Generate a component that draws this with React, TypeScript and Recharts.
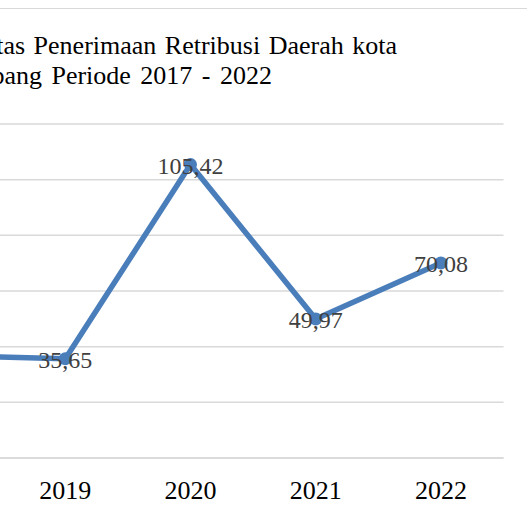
import React from "react";
import { LineChart, Line, XAxis, YAxis, CartesianGrid, LabelList } from "recharts";

const years = ["2017", "2018", "2019", "2020", "2021", "2022"];
const effectiveness = [38.4, 36.8, 35.65, 105.42, 49.97, 70.08];
const yTicks = [0, 20, 40, 60, 80, 100, 120];
const titleLine1 = "Efektivitas Penerimaan Retribusi Daerah kota";
const titleLine2 = "Palembang Periode 2017 - 2022";

const data = years.map((y, i) => ({ year: y, value: effectiveness[i] }));

const FONT = "'Liberation Serif', 'Times New Roman', serif";

const fmt = (v: number) => v.toFixed(2).replace(".", ",");

const renderLabel = (props: any) => {
  const { x, y, value } = props;
  return (
    <text
      x={x}
      y={y + 9}
      textAnchor="middle"
      fontFamily={FONT}
      fontSize={24}
      fill="#404040"
    >
      {fmt(value)}
    </text>
  );
};

const titleStyle: React.CSSProperties = {
  position: "absolute",
  fontFamily: FONT,
  fontSize: 26,
  lineHeight: "26px",
  whiteSpace: "nowrap",
  color: "#000",
};

export default function App() {
  return (
    <div
      style={{
        position: "absolute",
        left: 0,
        top: 0,
        width: 527,
        height: 514,
        overflow: "hidden",
        background: "#fff",
      }}
    >
      <div
        style={{
          position: "absolute",
          left: 0,
          top: 8,
          width: 527,
          height: 0,
          borderTop: "1.5px solid #d9d9d9",
        }}
      />
      <div style={{ ...titleStyle, right: 527 - 397, top: 33, wordSpacing: "2px" }}>
        {titleLine1}
      </div>
      <div style={{ ...titleStyle, right: 527 - 272, top: 63, wordSpacing: "3px" }}>
        {titleLine2}
      </div>
      <div style={{ position: "absolute", left: -300, top: 0 }}>
        <LineChart
          width={830}
          height={514}
          data={data}
          margin={{ top: 124, right: 26.5, bottom: 0, left: 52.3 }}
        >
          <CartesianGrid vertical={false} stroke="#d9d9d9" strokeWidth={1.5} />
          <XAxis
            dataKey="year"
            height={56}
            tickSize={0}
            tickMargin={22.5}
            padding={{ left: 62.6, right: 62.6 }}
            axisLine={{ stroke: "#d9d9d9", strokeWidth: 1.5 }}
            tickLine={false}
            tick={{ fontFamily: FONT, fontSize: 26, fill: "#000" }}
            interval={0}
          />
          <YAxis hide domain={[0, 120]} ticks={yTicks} />
          <Line
            dataKey="value"
            stroke="none"
            dot={false}
            activeDot={false}
            isAnimationActive={false}
          >
            <LabelList dataKey="value" content={renderLabel} />
          </Line>
          <Line
            dataKey="value"
            stroke="#4a7ebb"
            strokeWidth={5.5}
            strokeLinejoin="round"
            dot={{ r: 6.5, fill: "#4a7ebb", stroke: "#4a7ebb", strokeWidth: 0 }}
            activeDot={false}
            isAnimationActive={false}
          />
        </LineChart>
      </div>
    </div>
  );
}
